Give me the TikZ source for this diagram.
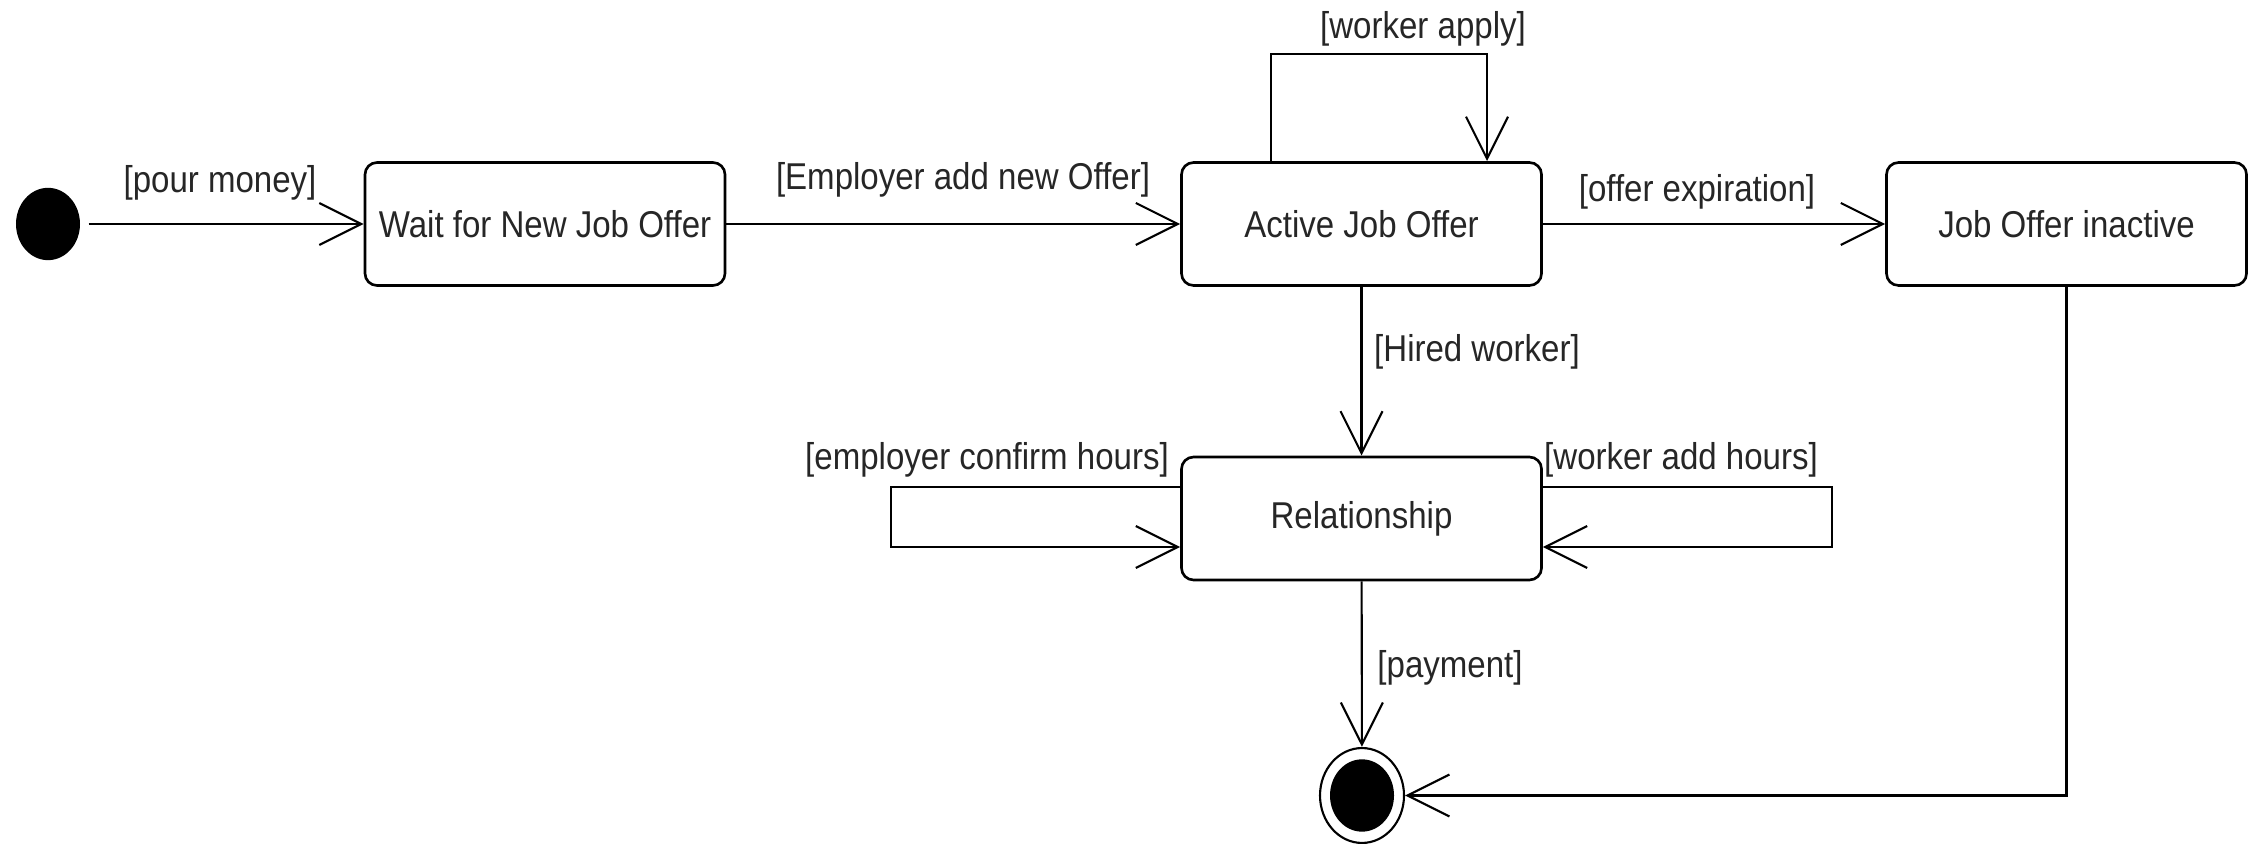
\documentclass[tikz,border=0pt]{standalone}
\usepackage{fontspec}
\setmainfont{Liberation Sans}
\usepackage{tikz}
\usetikzlibrary{positioning,arrows.meta}

\tikzset{
    jobstate/.style={draw, line width=0.75pt, rounded corners=1.2mm, fill=white,
        minimum width=3.6cm, minimum height=1.088cm, yscale=1.13,
        text=black!85, font=\fontsize{9.4}{11}\selectfont},
    guard/.style={inner sep=0pt, yscale=1.13, text=black!85, font=\fontsize{9.4}{11}\selectfont},
    trans/.style={line width=0.6pt, -{Straight Barb[length=4.2mm,width=4.2mm]}},
    initstate/.style={circle, fill=black, inner sep=0pt, minimum size=0.64cm, yscale=1.13},
    finalring/.style={circle, draw, line width=0.6pt, inner sep=0pt, minimum size=0.84cm, yscale=1.13}
}

\begin{document}
\begin{tikzpicture}

    \useasboundingbox (0,0) rectangle (22.55,-8.44);

    \node[initstate] (start) at (0.48,-2.24) {};
    \node[jobstate] (wait) at (5.45,-2.24) {Wait for New Job Offer};
    \node[jobstate] (active) at (13.615,-2.24) {Active Job Offer};
    \node[jobstate] (inactive) at (20.665,-2.24) {Job Offer inactive};
    \node[jobstate] (rel) at (13.615,-5.185) {Relationship};
    \node[finalring] (end) at (13.62,-7.955) {};
    \node[initstate] (endcore) at (end) {};

    % loop corners
    \coordinate (applyL) at (12.71,-0.54);
    \coordinate (applyR) at (14.87,-0.54);
    \coordinate (confirmT) at (8.91,-4.87);
    \coordinate (confirmB) at (8.91,-5.47);
    \coordinate (addT) at (18.32,-4.87);
    \coordinate (addB) at (18.32,-5.47);

    \draw[trans, shorten <=0.08cm] (start) -- (wait);
    \draw[trans] (wait) -- (active);
    \draw[trans] (active) -- (inactive);
    \draw[trans] (active) -- (rel);
    \draw[trans] (applyL |- active.north) -- (applyL) -- (applyR) -- (applyR |- active.north);
    \draw[trans] (confirmT -| rel.west) -- (confirmT) -- (confirmB) -- (confirmB -| rel.west);
    \draw[trans] (addT -| rel.east) -- (addT) -- (addB) -- (addB -| rel.east);
    \draw[trans] (rel) -- (end);
    \draw[trans] (inactive) |- (end);

    \node[guard] (lblpour) at (2.20,-1.83) {[pour money]};
    \node[guard] (lblemployer) at (9.63,-1.80) {[Employer add new Offer]};
    \node[guard] (lblapply) at (14.23,-0.29) {[worker apply]};
    \node[guard] (lblexpire) at (16.97,-1.92) {[offer expiration]};
    \node[guard] (lblhired) at (14.77,-3.52) {[Hired worker]};
    \node[guard] (lblconfirm) at (9.87,-4.60) {[employer confirm hours]};
    \node[guard] (lbladd) at (16.81,-4.60) {[worker add hours]};
    \node[guard] (lblpay) at (14.50,-6.68) {[payment]};

\end{tikzpicture}
\end{document}
